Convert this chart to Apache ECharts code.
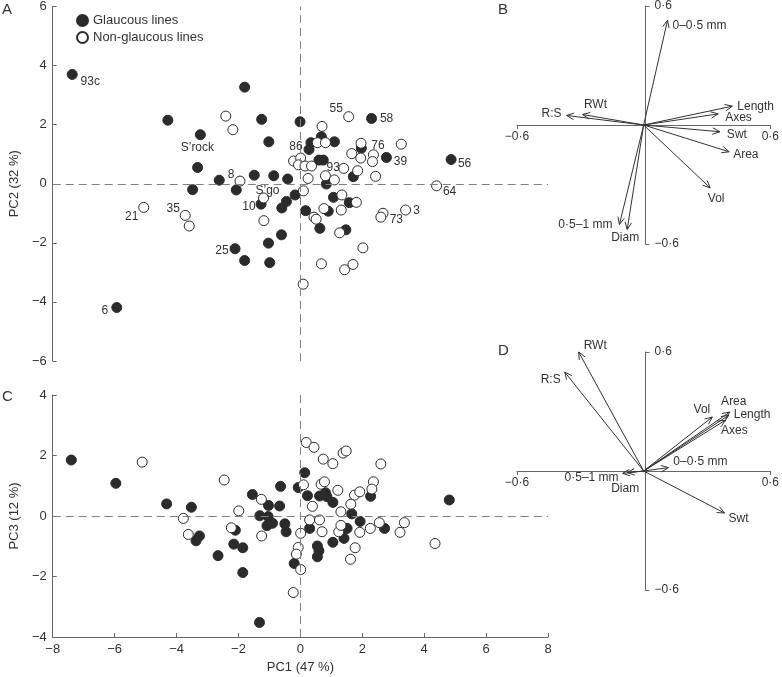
<!DOCTYPE html>
<html><head><meta charset="utf-8">
<script src="https://cdn.jsdelivr.net/npm/echarts@6/dist/echarts.min.js"></script>
<style>html,body{margin:0;padding:0;background:#fff}#c{width:782px;height:677px}</style>
</head><body><div id="c"></div>
<script>
// ---------- DATA ----------
const seriesNames = ['Glaucous lines', 'Non-glaucous lines'];
// Panel A: PC1 vs PC2  [pc1, pc2, optional label]
const glaucousA = [[-7.37,3.70,'93c'],[-4.28,2.15],[-1.80,3.27],[-3.23,1.66,'S’rock'],[-1.25,2.18],[-1.02,1.42],[-0.01,2.10],[-3.32,0.55],[-2.62,0.12],[-1.49,0.29],[-0.86,0.27],[-0.41,0.16],[-3.48,-0.20],[-2.07,-0.21],[2.30,2.21,'58'],[0.68,1.59],[0.34,1.39],[1.10,1.42],[0.28,1.16,'86'],[1.97,1.20],[2.78,0.89,'39'],[0.60,0.80],[0.74,0.80],[1.71,0.24],[0.84,-0.01],[-1.27,-0.69,'10'],[-0.45,-0.60],[-0.60,-0.82],[-0.17,-0.38],[1.07,-0.46],[1.58,-0.64],[0.17,-0.91],[0.90,-0.93],[0.63,-1.51],[1.47,-1.56],[-0.61,-1.73],[-1.03,-2.01],[-2.11,-2.20,'25'],[-1.80,-2.60],[-0.99,-2.67],[4.87,0.82,'56'],[-5.93,-4.19,'6']];
const nonGlaucousA = [[-2.41,2.29],[-2.18,1.83],[-1.95,0.09,'8'],[0.70,1.94],[1.56,2.27,'55'],[0.55,1.39],[0.81,1.39],[1.96,1.37,'76'],[1.66,1.02],[1.95,0.87],[2.36,0.98],[2.33,0.75],[3.26,1.34],[-0.22,0.77],[0.01,0.87],[-0.06,0.64],[0.15,0.60],[0.36,0.60],[1.40,0.52,'93'],[1.85,0.44],[2.43,0.25],[0.81,0.27],[1.10,0.13],[0.25,0.18],[-1.19,-0.48,'S’go'],[0.10,-0.24],[1.34,-0.38],[1.81,-0.63],[1.32,-0.89],[0.76,-0.84],[0.44,-1.13],[0.51,-1.20],[1.27,-1.66],[2.02,-2.17],[0.68,-2.71],[1.43,-2.91],[1.70,-2.73],[2.67,-1.00],[2.60,-1.13,'73'],[-1.18,-1.25],[-3.72,-1.07,'35'],[-3.59,-1.43],[3.40,-0.89,'3'],[4.40,-0.07,'64'],[0.09,-3.40],[-5.06,-0.80,'21']];
// Panel C: PC1 vs PC3
const glaucousC = [[-7.40,1.85],[-5.96,1.08],[-4.32,0.40],[-3.52,0.29],[-3.26,-0.66],[-3.37,-0.82],[-2.10,-0.47],[-2.15,-0.93],[-1.86,-1.05],[-2.66,-1.31],[-1.86,-1.87],[-1.32,-3.52],[-1.55,0.71],[-1.03,0.35],[-1.31,0.01],[-1.04,-0.02],[-1.08,-0.32],[-0.90,-0.24],[-0.64,0.98],[-0.67,0.33],[-0.50,-0.26],[-0.46,-0.52],[-0.07,0.94],[0.14,1.43],[-0.20,-1.57],[0.23,0.67],[0.62,0.66],[0.81,0.77],[0.86,0.64],[1.05,0.45],[2.27,0.65],[1.66,0.07],[1.93,-0.18],[2.72,-0.41],[0.30,-0.41],[1.51,-0.41],[1.41,-0.74],[1.05,-0.87],[0.55,-0.99],[0.60,-1.15],[0.55,-1.35],[4.81,0.53]];
const nonGlaucousC = [[-5.11,1.78],[-3.78,-0.08],[-3.62,-0.61],[-2.46,1.19],[-1.99,0.17],[-2.23,-0.39],[-1.26,0.55],[-1.25,-0.66],[0.01,-0.57],[-0.07,-1.04],[-0.13,-1.26],[0.01,-1.77],[-0.23,-2.53],[0.19,2.43],[0.44,2.27],[0.74,1.88],[1.05,1.73],[1.38,2.08],[1.48,2.15],[2.60,1.72],[0.10,1.03],[0.39,0.32],[0.67,1.05],[0.78,1.13],[1.21,0.85],[1.75,0.69],[1.92,0.80],[1.63,0.39],[2.36,1.13],[2.31,0.89],[1.31,0.14],[2.55,-0.22],[3.22,-0.54],[0.30,-0.13],[0.62,-0.13],[0.70,-0.52],[1.24,-0.52],[1.31,-0.31],[1.92,-0.54],[2.26,-0.41],[1.77,-1.05],[1.62,-1.43],[4.35,-0.91],[3.36,-0.22]];
// Panel B: loadings PC1 vs PC2
const loadNames = ['0–0·5 mm','Length','Axes','Swt','Area','Vol','Diam','0·5–1 mm','RWt','R:S'];
const loadingsB = [[0.113,0.528],[0.420,0.095],[0.353,0.056],[0.361,-0.034],[0.405,-0.135],[0.315,-0.317],[-0.078,-0.527],[-0.115,-0.502],[-0.290,0.053],[-0.365,0.048]];
// Panel D: loadings PC1 vs PC3
const loadingsD = [[0.117,0.017],[0.403,0.281],[0.387,0.256],[0.383,-0.212],[0.408,0.297],[0.325,0.272],[-0.078,-0.008],[-0.100,-0.012],[-0.308,0.600],[-0.374,0.499]];
const axisTitles = {x:'PC1 (47 %)', yA:'PC2 (32 %)', yC:'PC3 (12 %)'};
const panelLetters = ['A','B','C','D'];

// ---------- STYLE ----------
const FONT = '"Liberation Sans", Arial, Helvetica, sans-serif';
const INK = '#333';
const AX = '#666';
const ptLabelOffset = {'93c':[18,7],'S’rock':[-3,12.5],'8':[-9,-6],'S’go':[4,-7],'10':[-12,3],'25':[-13,2],'35':[-12,-7],'21':[-12,9],'6':[-12,3],'86':[-13,-3],'55':[-12.5,-8],'58':[15,0],'76':[17,2],'39':[14,4],'56':[13.5,4],'64':[13,6],'73':[15.5,3],'3':[11,1],'93':[-10.5,-1]};
const labB = {'0–0·5 mm':['left',5,5],'Length':['left',5,1],'Axes':['left',7,4],'Swt':['left',7,3],'Area':['left',4,3],'Vol':['center',6,11],'Diam':['center',-2,8],'0·5–1 mm':['right',-7,0],'RWt':['center',13,-10],'R:S':['right',-5,-2]};
const labD = {'0–0·5 mm':['left',5,-6],'Length':['left',5,-1],'Axes':['center',9,10],'Swt':['left',4,6],'Area':['center',4,-10],'Vol':['right',-2,-7],'Diam':['center',-2,16],'0·5–1 mm':['right',-4,4],'RWt':['left',5,-6],'R:S':['right',-4,8]};
const SIDE_W = 257, SIDE_H = 238;

const minus = v => String(v).replace('-', '−');
const fmt06 = v => (Math.abs(v) < 1e-9 ? '' : minus(v.toFixed(1)).replace('.', '·'));

function pts(arr) {
  return arr.map(d => {
    const item = {value:[d[0], d[1]]};
    if (d[2]) {
      item.name = d[2];
      item.label = {show:true, position:'inside', formatter:d[2], offset:ptLabelOffset[d[2]] || [0,0],
        color:INK, fontSize:12, fontFamily:FONT};
    }
    return item;
  });
}
const zeroLines = {silent:true, symbol:'none', label:{show:false}, animation:false,
  lineStyle:{type:[8,5], color:'#808080', width:1}, data:[{xAxis:0},{yAxis:0}]};
const filledStyle = {color:'#2b2b2b', borderColor:'#2b2b2b', borderWidth:1, opacity:1};
const openStyle = {color:'#ffffff', borderColor:'#2b2b2b', borderWidth:1, opacity:1};

function arrowSeries(data, xi, labMap) {
  return {
    type:'custom', coordinateSystem:'cartesian2d', xAxisIndex:xi, yAxisIndex:xi, silent:true,
    data:data,
    renderItem:function(params, api){
      const o = api.coord([0,0]);
      const p = api.coord([api.value(0), api.value(1)]);
      const ang = Math.atan2(p[1]-o[1], p[0]-o[0]);
      const L = 8, a = 0.42;
      const h1 = [p[0]-L*Math.cos(ang-a), p[1]-L*Math.sin(ang-a)];
      const h2 = [p[0]-L*Math.cos(ang+a), p[1]-L*Math.sin(ang+a)];
      const nm = loadNames[params.dataIndex];
      const lp = labMap[nm];
      return {type:'group', children:[
        {type:'line', shape:{x1:o[0],y1:o[1],x2:p[0],y2:p[1]}, style:{stroke:INK, lineWidth:1}},
        {type:'polyline', shape:{points:[h1,p,h2]}, style:{stroke:INK, fill:null, lineWidth:1}},
        {type:'text', x:p[0]+lp[1], y:p[1]+lp[2], style:{text:nm, fill:INK, fontSize:12, fontFamily:FONT, align:lp[0], verticalAlign:'middle'}}
      ]};
    }
  };
}

const sideAxisX = (gi) => ({gridIndex:gi, type:'value', min:-0.6, max:0.6, interval:1.2, position:'bottom', offset:-SIDE_H/2,
  axisLine:{onZero:false, lineStyle:{color:AX}}, axisTick:{length:4, lineStyle:{color:AX}},
  axisLabel:{formatter:fmt06, color:INK, fontSize:12, fontFamily:FONT, margin:6}, splitLine:{show:false}});
const sideAxisY = (gi) => ({gridIndex:gi, type:'value', min:-0.6, max:0.6, interval:1.2, position:'left', offset:-SIDE_W/2,
  axisLine:{onZero:false, lineStyle:{color:AX}}, axisTick:{inside:true, length:4, lineStyle:{color:AX}},
  axisLabel:{inside:true, formatter:fmt06, color:INK, fontSize:12, fontFamily:FONT, margin:9}, splitLine:{show:false}});
const mainTick = {inside:true, length:4, lineStyle:{color:AX}};

const chart = echarts.init(document.getElementById('c'), null, {renderer:'canvas'});
chart.setOption({
  animation:false,
  backgroundColor:'#fff',
  title: [
    {text:panelLetters[0], left:2, top:2},
    {text:panelLetters[1], left:498, top:2},
    {text:panelLetters[2], left:2, top:389},
    {text:panelLetters[3], left:498, top:343}
  ].map(t => Object.assign(t, {padding:0, textStyle:{fontSize:15, fontWeight:'normal', color:INK, fontFamily:FONT}})),
  legend:{data:seriesNames, orient:'vertical', left:76, top:14, padding:0, itemWidth:11, itemHeight:11, itemGap:4,
    icon:'circle', textStyle:{fontSize:13, color:INK, fontFamily:FONT}, selectedMode:false},
  grid:[
    {left:48, top:5, width:500, height:356},
    {left:48, top:395, width:500, height:242},
    {left:517, top:6, width:SIDE_W, height:SIDE_H},
    {left:517, top:352, width:SIDE_W, height:SIDE_H}
  ],
  xAxis:[
    {gridIndex:0, type:'value', min:-8, max:8, interval:2, axisLine:{show:false}, axisTick:{show:false}, axisLabel:{show:false}, splitLine:{show:false}},
    {gridIndex:1, type:'value', min:-8, max:8, interval:2, axisLine:{onZero:false, lineStyle:{color:AX}}, axisTick:mainTick,
      axisLabel:{formatter:minus, color:INK, fontSize:13, fontFamily:FONT, margin:6}, splitLine:{show:false},
      name:axisTitles.x, nameLocation:'middle', nameGap:24, nameTextStyle:{fontSize:13, color:INK, fontFamily:FONT}},
    sideAxisX(2), sideAxisX(3)
  ],
  yAxis:[
    {gridIndex:0, type:'value', min:-6, max:6, interval:2, axisLine:{onZero:false, lineStyle:{color:AX}}, axisTick:mainTick,
      axisLabel:{formatter:minus, color:INK, fontSize:13, fontFamily:FONT, margin:6}, splitLine:{show:false},
      name:axisTitles.yA, nameLocation:'middle', nameGap:30, nameTextStyle:{fontSize:13, color:INK, fontFamily:FONT}},
    {gridIndex:1, type:'value', min:-4, max:4, interval:2, axisLine:{onZero:false, lineStyle:{color:AX}}, axisTick:mainTick,
      axisLabel:{formatter:minus, color:INK, fontSize:13, fontFamily:FONT, margin:6}, splitLine:{show:false},
      name:axisTitles.yC, nameLocation:'middle', nameGap:30, nameTextStyle:{fontSize:13, color:INK, fontFamily:FONT}},
    sideAxisY(2), sideAxisY(3)
  ],
  series:[
    {name:seriesNames[0], type:'scatter', xAxisIndex:0, yAxisIndex:0, symbolSize:10, itemStyle:filledStyle, data:pts(glaucousA), markLine:zeroLines, z:3},
    {name:seriesNames[1], type:'scatter', xAxisIndex:0, yAxisIndex:0, symbolSize:10, itemStyle:openStyle, data:pts(nonGlaucousA), z:4},
    {name:seriesNames[0], type:'scatter', xAxisIndex:1, yAxisIndex:1, symbolSize:10, itemStyle:filledStyle, data:pts(glaucousC), markLine:zeroLines, z:3},
    {name:seriesNames[1], type:'scatter', xAxisIndex:1, yAxisIndex:1, symbolSize:10, itemStyle:openStyle, data:pts(nonGlaucousC), z:4},
    arrowSeries(loadingsB, 2, labB),
    arrowSeries(loadingsD, 3, labD)
  ]
});
</script></body></html>
